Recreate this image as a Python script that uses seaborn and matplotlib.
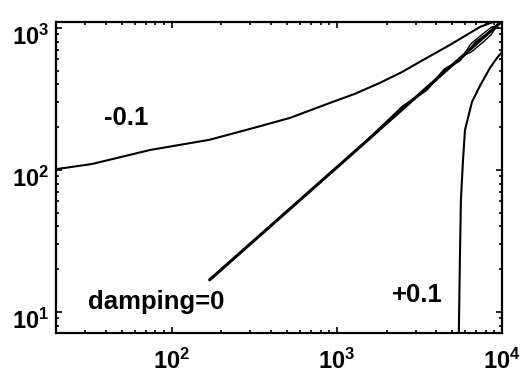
import numpy as np
import pandas as pd
import matplotlib.pyplot as plt
import matplotlib.ticker as ticker
import matplotlib.transforms as mtransforms
import seaborn as sns

sns.set_theme(style='ticks')
plt.rcParams['font.family'] = ['Liberation Sans', 'DejaVu Sans']
plt.rcParams['font.weight'] = 'bold'
plt.rcParams['text.color'] = 'black'
plt.rcParams['mathtext.fontset'] = 'custom'
plt.rcParams['mathtext.bf'] = 'Liberation Sans:bold'
plt.rcParams['mathtext.rm'] = 'Liberation Sans:bold'

# damping = -0.1 curve
neg_x = [19.8, 33, 74, 170, 297, 519, 908, 1285, 1823, 2450, 3185, 4840, 7365, 8810, 10000]
neg_y = [101, 110, 138, 163, 194, 232, 296, 343, 410, 485, 577, 759, 1016, 1100, 1180]

# damping = 0 (main trace + second pass + loop near the top)
zero_x = [170, 500, 1000, 1500, 2000, 2500, 3000, 3500, 4000, 4500, 5000, 5500, 6500, 8000, 10000]
zero_y = [16.8, 51, 104, 158, 213, 268, 323, 379, 434, 491, 547, 603, 716, 887, 1117]
zero2_x = [1500, 2500, 3500, 4500, 5500, 7000, 9000, 10000]
zero2_y = [158, 279, 366, 512, 585, 800, 985, 1117]
loop_x = [5800, 6500, 7500, 8600, 9300, 8600, 7500, 6500, 5800]
loop_y = [637, 775, 890, 1010, 1035, 895, 775, 675, 637]

# damping = +0.1 curve
pos_x = [5450, 5480, 5560, 5640, 5810, 5970, 6580, 7360, 8460, 9330, 10000]
pos_y = [5, 7.1, 23, 61.5, 118, 191, 301, 391, 523, 615, 677]

fig = plt.figure(figsize=(5.22, 3.77), dpi=100)
ax = fig.add_axes([0.1073, 0.1167, 0.8544, 0.8249])

sns.lineplot(x=neg_x, y=neg_y, ax=ax, color='black', lw=1.5, sort=False, estimator=None)
sns.lineplot(x=zero_x, y=zero_y, ax=ax, color='black', lw=2.2, sort=False, estimator=None)
sns.lineplot(x=zero2_x, y=zero2_y, ax=ax, color='black', lw=1.6, sort=False, estimator=None)
sns.lineplot(x=loop_x, y=loop_y, ax=ax, color='black', lw=1.0, sort=False, estimator=None)
sns.lineplot(x=pos_x, y=pos_y, ax=ax, color='black', lw=1.5, sort=False, estimator=None)

ax.set_xscale('log')
ax.set_yscale('log')
ax.set_xlim(20, 1e4)
ax.set_ylim(7.1, 1100)

fmt = ticker.FuncFormatter(lambda v, p: rf'$\mathbf{{10^{{{int(round(np.log10(v)))}}}}}$')
for axis in (ax.xaxis, ax.yaxis):
    axis.set_major_locator(ticker.LogLocator(base=10))
    axis.set_minor_locator(ticker.LogLocator(base=10, subs=np.arange(2, 10)))
    axis.set_major_formatter(fmt)
    axis.set_minor_formatter(ticker.NullFormatter())

ax.tick_params(which='both', direction='in', top=True, right=True, width=1.2,
               colors='black', labelcolor='black', labelsize=17)
ax.tick_params(which='major', length=4)
ax.tick_params(which='minor', length=2.5)
ax.tick_params(axis='x', which='major', pad=11)
ax.tick_params(axis='y', which='major', pad=5)
for s in ax.spines.values():
    s.set_linewidth(1.6)
    s.set_color('black')

# matlab-style y labels sit a bit below their tick
shift = mtransforms.ScaledTranslation(0, -5 / 72, fig.dpi_scale_trans)
for t in ax.yaxis.get_major_ticks():
    t.label1.set_transform(t.label1.get_transform() + shift)

ax.text(53.4, 232, '-0.1', ha='center', va='center', fontsize=18.5, fontweight='bold', color='black')
ax.text(81, 11.7, 'damping=0', ha='center', va='center', fontsize=18.5, fontweight='bold', color='black')
ax.text(3055, 13.2, '+0.1', ha='center', va='center', fontsize=18.5, fontweight='bold', color='black')

fig.savefig('out.png', dpi=100)
